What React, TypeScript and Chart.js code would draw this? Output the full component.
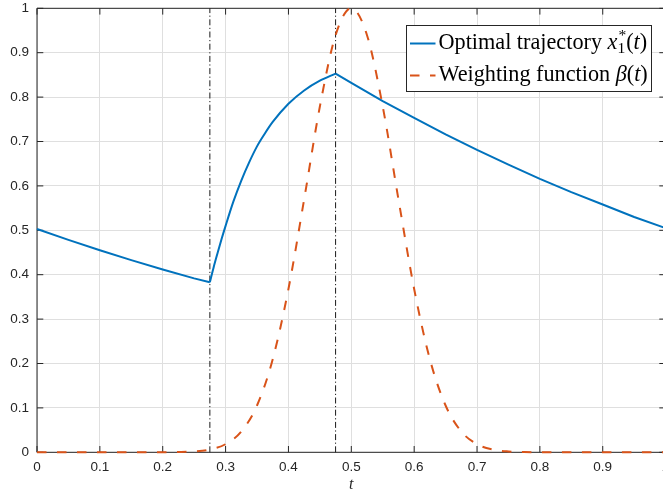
import React, { useEffect, useRef } from 'react';
import { Chart, registerables } from 'chart.js';

Chart.register(...registerables);

// ---- data ----
const trajT = [0, 0.05, 0.1, 0.15, 0.2, 0.25, 0.275, 0.28125, 0.2875, 0.29375, 0.3, 0.3125, 0.325, 0.3375, 0.35, 0.3625, 0.375, 0.4, 0.425, 0.45, 0.475, 0.5, 0.55, 0.6, 0.65, 0.7, 0.75, 0.8, 0.85, 0.9, 0.95, 1];
const trajX = [0.503, 0.4785, 0.4551, 0.4329, 0.4118, 0.3917, 0.383, 0.418, 0.45, 0.481, 0.51, 0.565, 0.612, 0.653, 0.689, 0.718, 0.744, 0.785, 0.815, 0.837, 0.853, 0.832, 0.791, 0.753, 0.716, 0.681, 0.648, 0.616, 0.586, 0.558, 0.53, 0.505];

const betaT = [0, 0.1, 0.2, 0.225, 0.25, 0.275, 0.3, 0.325, 0.35, 0.375, 0.4, 0.425, 0.45, 0.475, 0.5, 0.525, 0.55, 0.575, 0.6, 0.625, 0.65, 0.675, 0.7, 0.725, 0.75, 0.775, 0.8, 0.9, 1];
const betaV = [0, 0, 0.0001, 0.0005, 0.0019, 0.0063, 0.0183, 0.0468, 0.1054, 0.2096, 0.3679, 0.5698, 0.7788, 0.9394, 1, 0.9394, 0.7788, 0.5698, 0.3679, 0.2096, 0.1054, 0.0468, 0.0183, 0.0063, 0.0019, 0.0005, 0.0001, 0, 0];

const switchTimes = [0.275, 0.475];
const yRange = [0, 1];
const xRange = [0, 1];

const xTickLabels = ['0', '0.1', '0.2', '0.3', '0.4', '0.5', '0.6', '0.7', '0.8', '0.9', '1'];
const yTickLabels = ['0', '0.1', '0.2', '0.3', '0.4', '0.5', '0.6', '0.7', '0.8', '0.9', '1'];
const xAxisTitle = 't';
const legendNames = ['Optimal trajectory ', 'Weighting function '];

const BLUE = '#0072BD';
const ORANGE = '#D95319';
const AXIS = '#262626';
const W = 672;
const H = 494;

type Part = { t?: string; it?: boolean; sup?: string; sub?: string };

function drawParts(ctx: CanvasRenderingContext2D, parts: Part[], x: number, base: number, size: number, draw: boolean): number {
  let cx = x;
  const fam = '"Liberation Serif", "DejaVu Serif", serif';
  for (const p of parts) {
    if (p.t !== undefined) {
      ctx.font = `${p.it ? 'italic ' : ''}${size}px ${fam}`;
      if (draw) ctx.fillText(p.t, cx, base);
      cx += ctx.measureText(p.t).width;
    } else {
      const s = size * 0.7;
      ctx.font = `${s}px ${fam}`;
      let w = 0;
      if (p.sup) {
        if (draw) ctx.fillText(p.sup, cx + 1, base - size * 0.38);
        w = Math.max(w, ctx.measureText(p.sup).width + 1);
      }
      if (p.sub) {
        if (draw) ctx.fillText(p.sub, cx, base + size * 0.22);
        w = Math.max(w, ctx.measureText(p.sub).width);
      }
      cx += w;
    }
  }
  return cx - x;
}

const axesPlugin = {
  id: 'matlabAxes',
  beforeDatasetsDraw(chart: any) {
    const { ctx, chartArea: a, scales } = chart;
    const L = 6.3;
    ctx.save();
    ctx.strokeStyle = AXIS;
    ctx.lineWidth = 1;
    ctx.beginPath();
    ctx.rect(a.left, a.top, a.right - a.left, a.bottom - a.top);
    scales.x.ticks.forEach((tk: any) => {
      const px = scales.x.getPixelForValue(tk.value);
      ctx.moveTo(px, a.bottom); ctx.lineTo(px, a.bottom - L);
      ctx.moveTo(px, a.top); ctx.lineTo(px, a.top + L);
    });
    scales.y.ticks.forEach((tk: any) => {
      const py = scales.y.getPixelForValue(tk.value);
      ctx.moveTo(a.left, py); ctx.lineTo(a.left + L, py);
      ctx.moveTo(a.right, py); ctx.lineTo(a.right - L, py);
    });
    ctx.stroke();
    ctx.restore();
  },
};

const legendPlugin = {
  id: 'latexLegend',
  afterDraw(chart: any) {
    const { ctx } = chart;
    const bx = 406.5, by = 25.5, bw = 245, bh = 66;
    ctx.save();
    ctx.fillStyle = '#fff';
    ctx.fillRect(bx, by, bw, bh);
    ctx.strokeStyle = AXIS;
    ctx.lineWidth = 1;
    ctx.strokeRect(bx, by, bw, bh);

    const row1: Part[] = [{ t: legendNames[0] }, { t: 'x', it: true }, { sup: '*', sub: '1' }, { t: '(' }, { t: 't', it: true }, { t: ')' }];
    const row2: Part[] = [{ t: legendNames[1] }, { t: 'β', it: true }, { t: '(' }, { t: 't', it: true }, { t: ')' }];
    const textX = 438.5;
    const target = 209;
    const w0 = drawParts(ctx, row1, textX, 0, 18, false);
    const size = 18 * target / w0;

    ctx.lineWidth = 2;
    ctx.strokeStyle = BLUE;
    ctx.beginPath(); ctx.moveTo(410, 43.5); ctx.lineTo(435.5, 43.5); ctx.stroke();
    ctx.strokeStyle = ORANGE;
    ctx.setLineDash([9.5, 10.5]);
    ctx.beginPath(); ctx.moveTo(410, 75.5); ctx.lineTo(435.5, 75.5); ctx.stroke();
    ctx.setLineDash([]);

    ctx.fillStyle = '#000';
    ctx.textBaseline = 'alphabetic';
    ctx.textAlign = 'left';
    drawParts(ctx, row1, textX, 48.5, size, true);
    drawParts(ctx, row2, textX, 80.5, size, true);
    ctx.restore();
  },
};

export default function App() {
  const ref = useRef<HTMLCanvasElement | null>(null);

  useEffect(() => {
    if (!ref.current) return;
    const trajPts = trajT.map((t, i) => ({ x: t, y: trajX[i] }));
    const [s1, s2] = switchTimes;
    const segLeft = trajPts.filter((p) => p.x <= s1);
    const segRise = trajPts.filter((p) => p.x >= s1 && p.x <= s2);
    const segRight = trajPts.filter((p) => p.x >= s2);
    const betaData = betaT.map((t, i) => ({ x: t, y: betaV[i] }));

    const blueSeg = (data: any[], smooth: boolean) => ({
      label: 'traj',
      data,
      borderColor: BLUE,
      borderWidth: 2,
      pointRadius: 0,
      tension: 0,
      cubicInterpolationMode: smooth ? 'monotone' : 'default',
      borderJoinStyle: 'round',
      clip: false,
    });

    const vlineSets = switchTimes.map((s) => ({
      label: 'switch',
      data: yRange.map((y) => ({ x: s, y })),
      borderColor: '#1a1a1a',
      borderWidth: 1,
      borderDash: [6, 2.5, 1.2, 2.5],
      pointRadius: 0,
      tension: 0,
      clip: false,
    }));

    const chart = new Chart(ref.current, {
      type: 'line',
      data: {
        datasets: [
          {
            label: 'beta',
            data: betaData,
            borderColor: ORANGE,
            borderWidth: 2,
            borderDash: [9.5, 10.5],
            pointRadius: 0,
            cubicInterpolationMode: 'monotone',
            clip: false,
          },
          blueSeg(segLeft, false),
          blueSeg(segRise, true),
          blueSeg(segRight, false),
          ...vlineSets,
        ] as any,
      },
      options: {
        responsive: false,
        animation: false,
        devicePixelRatio: 1,
        layout: { padding: { top: 8.3, right: W - 665.6, left: 0, bottom: 0 } },
        plugins: { legend: { display: false }, tooltip: { enabled: false } },
        scales: {
          x: {
            type: 'linear',
            min: xRange[0],
            max: xRange[1],
            afterFit: (s: any) => { s.height = H - 452.3; s.paddingLeft = 0; s.paddingRight = 0; },
            border: { display: false },
            grid: { color: '#dfdfdf', lineWidth: 1, drawTicks: false },
            ticks: {
              stepSize: 0.1,
              autoSkip: false,
              maxRotation: 0,
              padding: 7,
              color: AXIS,
              font: { family: '"Liberation Sans", Arial, sans-serif', size: 13.5 },
              callback: (_v: any, i: number) => xTickLabels[i],
            },
            title: {
              display: true,
              text: xAxisTitle,
              color: AXIS,
              font: { family: '"Liberation Serif", serif', style: 'italic', size: 16 },
              padding: { top: 0, bottom: 0 },
            },
          },
          y: {
            type: 'linear',
            min: yRange[0],
            max: yRange[1],
            afterFit: (s: any) => { s.width = 37; s.paddingTop = 0; s.paddingBottom = 0; },
            border: { display: false },
            grid: { color: '#dfdfdf', lineWidth: 1, drawTicks: false },
            ticks: {
              stepSize: 0.1,
              autoSkip: false,
              padding: 8,
              color: AXIS,
              font: { family: '"Liberation Sans", Arial, sans-serif', size: 13.5 },
              callback: (_v: any, i: number) => yTickLabels[i],
            },
          },
        },
      } as any,
      plugins: [axesPlugin, legendPlugin],
    });
    return () => chart.destroy();
  }, []);

  return (
    <div style={{ position: 'fixed', left: 0, top: 0, width: 663, height: 494, overflow: 'hidden', background: '#fff' }}>
      <canvas ref={ref} width={W} height={H} style={{ display: 'block' }} />
    </div>
  );
}
